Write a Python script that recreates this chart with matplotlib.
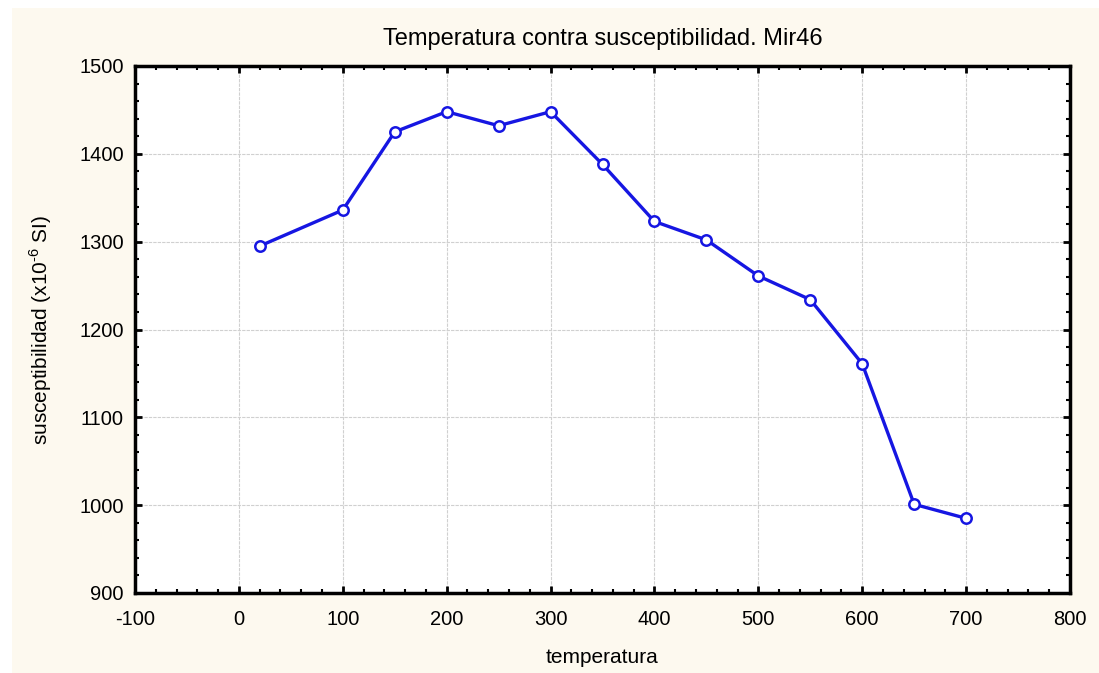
import numpy as np
import matplotlib.pyplot as plt
from matplotlib.patches import Rectangle
from matplotlib.ticker import MultipleLocator

plt.rcParams['font.family'] = ['Liberation Sans', 'DejaVu Sans']
plt.rcParams['axes.unicode_minus'] = False
plt.rcParams['mathtext.fontset'] = 'custom'
plt.rcParams['mathtext.rm'] = 'Liberation Sans'

temperatura = [20, 100, 150, 200, 250, 300, 350, 400, 450, 500, 550, 600, 650, 700]
susceptibilidad = [1295, 1336, 1425, 1448, 1432, 1448, 1388, 1323, 1302, 1261, 1234, 1161, 1001, 985]

fig = plt.figure(figsize=(10.99, 6.73), dpi=100)
fig.patch.set_facecolor('white')
# cream panel behind the chart
fig.patches.append(Rectangle((12 / 1099, 0), 1, 665 / 673,
                             transform=fig.transFigure, facecolor='#fdf9ef',
                             edgecolor='none', zorder=-1))

ax = fig.add_axes([135 / 1099, 1 - 593 / 673, 935 / 1099, 527 / 673])
ax.set_facecolor('white')

ax.plot(temperatura, susceptibilidad, color='#1616e2', lw=2.4,
        marker='o', ms=7.5, mfc='white', mec='#1616e2', mew=1.8, zorder=3)

ax.set_xlim(-100, 800)
ax.set_ylim(900, 1500)
ax.xaxis.set_major_locator(MultipleLocator(100))
ax.xaxis.set_minor_locator(MultipleLocator(20))
ax.yaxis.set_major_locator(MultipleLocator(100))
ax.yaxis.set_minor_locator(MultipleLocator(20))

ax.grid(True, which='major', color='#d0d0d0', lw=0.8, ls=(0, (3, 1)))
ax.set_axisbelow(True)

ax.tick_params(which='both', direction='in', top=True, right=True,
               labelsize=14.5, color='black')
ax.tick_params(axis='x', pad=12)
ax.tick_params(axis='y', pad=8)
ax.tick_params(which='major', length=5, width=2)
ax.tick_params(which='minor', length=3, width=1.5)

for s in ax.spines.values():
    s.set_linewidth(2.5)
    s.set_color('black')

ax.set_title('Temperatura contra susceptibilidad. Mir46', fontsize=17, pad=15)
ax.set_xlabel('temperatura', fontsize=15, labelpad=14)
ax.set_ylabel(r'susceptibilidad (x10$^{\text{-6}}$ SI)', fontsize=15, labelpad=18)

fig.savefig('out.png', dpi=100)
